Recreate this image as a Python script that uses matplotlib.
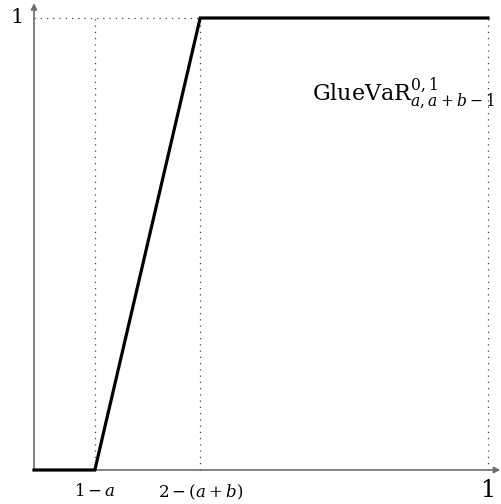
import matplotlib

matplotlib.use("Agg")
import matplotlib.pyplot as plt  # noqa: E402

plt.rcParams["font.family"] = "DejaVu Serif"
plt.rcParams["mathtext.fontset"] = "dejavuserif"

# distortion function of GlueVaR^{0,1}: piecewise linear knots
x_knots = [0.0, 0.134, 0.366, 1.0]
y_knots = [0.0, 0.0, 1.0, 1.0]
tick_pos = [0.134, 0.366]
tick_labels = [r"$1-a$", r"$2-(a+b)$"]

fig = plt.figure(figsize=(5.01, 5.04), dpi=100)
ax = fig.add_axes([0, 0, 1, 1])
ax.set_xlim(-0.0749, 1.0286)
ax.set_ylim(-0.0752, 1.0398)
ax.axis("off")

# axes with arrow heads
axcol = "#6e6e6e"
ax.annotate("", xy=(1.027, 0), xytext=(0, 0),
            arrowprops=dict(arrowstyle="-|>", color=axcol, lw=1.2, mutation_scale=9, shrinkA=0, shrinkB=0))
ax.annotate("", xy=(0, 1.033), xytext=(0, 0),
            arrowprops=dict(arrowstyle="-|>", color=axcol, lw=1.2, mutation_scale=9, shrinkA=0, shrinkB=0))

# dotted guides
dot = dict(color="#444444", lw=0.9, ls=(0, (1, 4)))
for xv in x_knots[1:]:
    ax.plot([xv, xv], [0, 1], **dot)
ax.plot([0, x_knots[2]], [1, 1], **dot)

ax.plot(x_knots, y_knots, color="black", lw=2.3, solid_joinstyle="miter", zorder=5)

for xv, lab in zip(tick_pos, tick_labels):
    ax.text(xv, -0.028, lab, ha="center", va="top", fontsize=12)
ax.text(1.0, -0.045, "1", ha="center", va="center", fontsize=17)
ax.text(-0.038, 1.0, "1", ha="center", va="center", fontsize=15)

ax.text(0.612, 0.814, r"GlueVaR$^{0,1}_{a,a+b-1}$", ha="left", va="baseline", fontsize=16)

fig.savefig("out.png", dpi=100)
